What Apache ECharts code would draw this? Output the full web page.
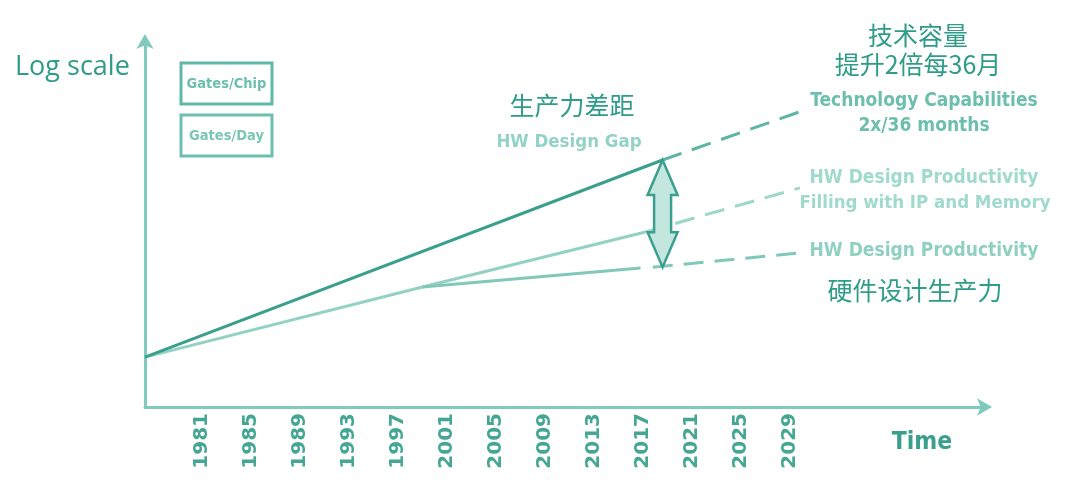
<!DOCTYPE html>
<html>
<head>
<meta charset="utf-8">
<script src="https://cdn.jsdelivr.net/npm/echarts@6/dist/echarts.min.js"></script>
<style>
html,body{margin:0;padding:0;background:#fff;}
#chart{width:1080px;height:491px;}
</style>
</head>
<body>
<div id="chart"></div>
<script>
// ---- data (x = year, y = relative log-scale units) ----
const tickYears = [1981, 1985, 1989, 1993, 1997, 2001, 2005, 2009, 2013, 2017, 2021, 2025, 2029];
const techSolid = [[1976.35, 13.6], [2018.6, 67.3]];
const techDashed = [[2018.6, 67.3], [2030.2, 80.9]];
const ipSolid = [[1976.35, 13.6], [1999.0, 32.7], [2017.2, 47.7]];
const ipDashed = [[2017.2, 47.7], [2029.8, 59.7]];
const prodSolid = [[1999.0, 32.7], [2016.8, 37.9]];
const prodDashed = [[2017.8, 38.1], [2029.8, 42.0]];
const gapArrow = [[2018.6, 67.3, 38.1]];

const CN = "'Noto Sans CJK SC', sans-serif";
const COND = "'DejaVu Sans Condensed', 'DejaVu Sans', sans-serif";
const dark = '#2e9c88';
const axisCol = '#7fcabd';

const chart = echarts.init(document.getElementById('chart'), null, {renderer: 'canvas'});

function lineSeries(data, color, dashed) {
  return {
    type: 'line', data: data, symbol: 'none', silent: true,
    lineStyle: {color: color, width: 3, type: dashed ? [20, 11] : 'solid'},
    z: 3
  };
}

const option = {
  animation: false,
  backgroundColor: '#ffffff',
  grid: {left: 145, right: 94, top: 40, bottom: 84},
  xAxis: {
    type: 'value', min: 1976.35, max: 2045,
    axisLine: {show: true, symbol: ['none', 'arrow'], symbolSize: [13, 15], symbolOffset: [0, 6], lineStyle: {color: axisCol, width: 3}},
    axisTick: {show: false},
    splitLine: {show: false},
    axisLabel: {
      customValues: tickYears, rotate: 90, margin: 6,
      color: '#45a793', fontFamily: "'DejaVu Sans', sans-serif", fontWeight: 'bold', fontSize: 20,
      formatter: v => String(v)
    }
  },
  yAxis: {
    type: 'value', min: 0, max: 100,
    axisLine: {show: true, symbol: ['none', 'arrow'], symbolSize: [13, 15], symbolOffset: [0, 6], lineStyle: {color: axisCol, width: 3}},
    axisTick: {show: false}, axisLabel: {show: false}, splitLine: {show: false}
  },
  series: [
    lineSeries(ipSolid, '#93d1c5', false),
    lineSeries(ipDashed, '#9dd6cb', true),
    lineSeries(prodSolid, '#82c8ba', false),
    lineSeries(prodDashed, '#80c8ba', true),
    lineSeries(techSolid, '#3a9f8c', false),
    lineSeries(techDashed, '#5db5a5', true),
    {
      type: 'custom', data: gapArrow, silent: true, z: 5,
      renderItem: function (params, api) {
        const t = api.coord([api.value(0), api.value(1)]);
        const b = api.coord([api.value(0), api.value(2)]);
        const cx = t[0], hw = 15, sw = 8.5, hl = 35;
        const pts = [
          [cx, t[1]], [cx + hw, t[1] + hl], [cx + sw, t[1] + hl], [cx + sw, b[1] - hl], [cx + hw, b[1] - hl],
          [cx, b[1]], [cx - hw, b[1] - hl], [cx - sw, b[1] - hl], [cx - sw, t[1] + hl], [cx - hw, t[1] + hl]
        ];
        return {type: 'polygon', shape: {points: pts}, style: {fill: '#c3e6df', stroke: '#3a9f8c', lineWidth: 2.5, lineJoin: 'miter'}};
      }
    }
  ],
  graphic: [
    {type: 'text', left: 15, top: 54, style: {text: 'Log scale', font: "27px 'Open Sans', sans-serif", fill: dark}},
    {type: 'rect', shape: {x: 181, y: 63, width: 91, height: 41}, style: {fill: 'none', stroke: '#5fb8a8', lineWidth: 3}},
    {type: 'text', x: 226.5, y: 84, style: {text: 'Gates/Chip', font: "bold 14.5px " + COND, fill: '#6cbfb0', align: 'center', verticalAlign: 'middle'}},
    {type: 'rect', shape: {x: 181, y: 115, width: 91, height: 41}, style: {fill: 'none', stroke: '#6cbfb0', lineWidth: 3}},
    {type: 'text', x: 226.5, y: 136, style: {text: 'Gates/Day', font: "bold 14.5px " + COND, fill: '#7cc6b8', align: 'center', verticalAlign: 'middle'}},
    {type: 'text', x: 572, y: 105, style: {text: '生产力差距', font: "25px " + CN, fill: dark, align: 'center', verticalAlign: 'middle'}},
    {type: 'text', x: 569, y: 142, style: {text: 'HW Design Gap', font: "bold 18.5px " + COND, fill: '#93d3c7', align: 'center', verticalAlign: 'middle'}},
    {type: 'text', x: 918, y: 35, style: {text: '技术容量', font: "25px " + CN, fill: dark, align: 'center', verticalAlign: 'middle'}},
    {type: 'text', x: 918, y: 64, style: {text: '提升2倍每36月', font: "25px " + CN, fill: dark, align: 'center', verticalAlign: 'middle'}},
    {type: 'text', x: 924, y: 101, style: {text: 'Technology Capabilities', font: "bold 19px " + COND, fill: '#6cbfae', align: 'center', verticalAlign: 'middle'}},
    {type: 'text', x: 924, y: 126, style: {text: '2x/36 months', font: "bold 19px " + COND, fill: '#6cbfae', align: 'center', verticalAlign: 'middle'}},
    {type: 'text', x: 924, y: 178, style: {text: 'HW Design Productivity', font: "bold 19px " + COND, fill: '#a0d9ce', align: 'center', verticalAlign: 'middle'}},
    {type: 'text', x: 925, y: 203, style: {text: 'Filling with IP and Memory', font: "bold 18.5px " + COND, fill: '#a0d9ce', align: 'center', verticalAlign: 'middle'}},
    {type: 'text', x: 924, y: 251, style: {text: 'HW Design Productivity', font: "bold 19px " + COND, fill: '#8fd0c3', align: 'center', verticalAlign: 'middle'}},
    {type: 'text', x: 915, y: 290, style: {text: '硬件设计生产力', font: "25px " + CN, fill: dark, align: 'center', verticalAlign: 'middle'}},
    {type: 'text', x: 922, y: 443, style: {text: 'Time', font: "bold 24.5px " + COND, fill: '#3aa08d', align: 'center', verticalAlign: 'middle'}}
  ]
};
chart.setOption(option);
</script>
</body>
</html>
